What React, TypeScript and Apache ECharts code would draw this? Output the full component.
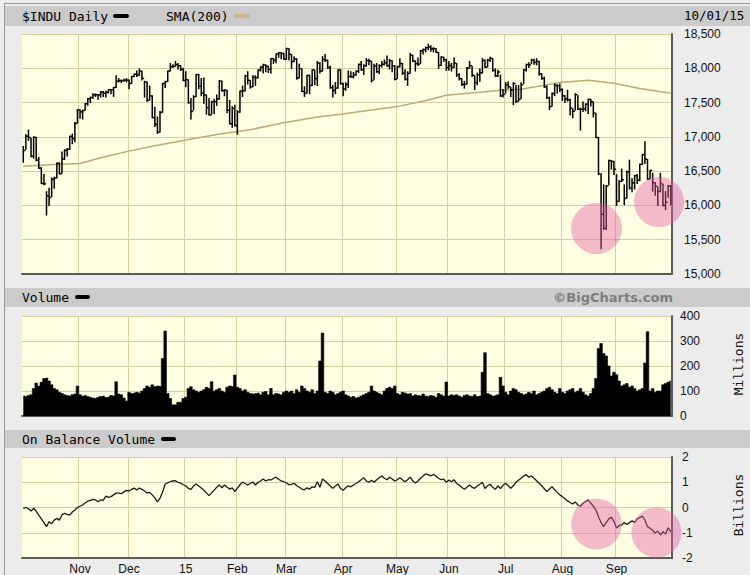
import React, { useEffect, useRef } from 'react';
import * as echarts from 'echarts';

// ---------- calendar (NYSE trading days 2014-10-02 .. 2015-10-01) ----------
const HOLIDAYS = ['2014-11-27', '2014-12-25', '2015-01-01', '2015-01-19', '2015-02-16', '2015-04-03', '2015-05-25', '2015-07-03', '2015-09-07'];
const MONTHS = ['Jan', 'Feb', 'Mar', 'Apr', 'May', 'Jun', 'Jul', 'Aug', 'Sep', 'Oct', 'Nov', 'Dec'];

function tradingDays(): string[] {
  const out: string[] = [];
  const d = new Date(Date.UTC(2014, 9, 2));
  const end = Date.UTC(2015, 9, 1);
  while (d.getTime() <= end) {
    const wd = d.getUTCDay();
    const s = d.toISOString().slice(0, 10);
    if (wd !== 0 && wd !== 6 && HOLIDAYS.indexOf(s) < 0) out.push(s);
    d.setUTCDate(d.getUTCDate() + 1);
  }
  return out;
}
const DATES = tradingDays();

// ---------- $INDU daily (close / high / low) ----------
const CLOSE = [
  16801, 17009, 16991, 16719, 16994, 16659, 16544, 16321, 16315, 16142, 16117, 16380, 16400, 16615, 16462, 16677, 16805, 16818, 17006, 16975, 17195, 17391,
  17366, 17384, 17484, 17554, 17573, 17613, 17615, 17612, 17652, 17635, 17648, 17688, 17686, 17720, 17810, 17818, 17815, 17828, 17828,
  17777, 17880, 17913, 17901, 17959, 17853, 17801, 17533, 17597, 17280, 17181, 17068, 17356, 17778, 17805, 17959, 18024, 18030, 18053, 18038, 17983, 17823,
  17833, 17501, 17371, 17585, 17908, 17737, 17640, 17613, 17427, 17320, 17512, 17515, 17554, 17814, 17673, 17679, 17388, 17191, 17417, 17165,
  17362, 17667, 17673, 17885, 17825, 17729, 17868, 17863, 17973, 18019, 18047, 18029, 17986, 18141, 18117, 18209, 18225, 18215, 18133,
  18288, 18204, 18097, 18136, 17857, 17996, 17662, 17635, 17895, 17749, 17977, 17849, 18076, 17959, 18128, 18116, 18011, 17718, 17678, 17712, 17976, 17776,
  17698, 17763, 17880, 17876, 17903, 17958, 18057, 17977, 18036, 18113, 18106, 17826, 18034, 17950, 18038, 18058, 18080, 18038, 18110, 18036, 17841,
  18024, 18070, 17928, 17842, 17925, 18191, 18105, 18068, 18060, 18253, 18272, 18299, 18312, 18285, 18286, 18232, 18042, 18163, 18126, 18011,
  18040, 18011, 18076, 17906, 17849, 17766, 17765, 18000, 18039, 17899, 17791, 17905, 17935, 18115, 18015, 18119, 18144, 17967, 17890, 17947, 17597, 17620,
  17758, 17731, 17684, 17777, 17516, 17549, 17761, 17978, 18054, 18051, 18121, 18087, 18101, 17920, 17852, 17732, 17569, 17441, 17631, 17751, 17746, 17690,
  17599, 17551, 17541, 17419, 17373, 17615, 17402, 17403, 17409, 17477, 17546, 17512, 17349, 16991, 16460, 15871, 15666, 16285, 16655, 16643, 16528,
  16058, 16351, 16374, 16102, 16492, 16253, 16330, 16433, 16370, 16599, 16740, 16675, 16385, 16511, 16331, 16280, 16202, 16315, 16001, 16049, 16285, 16272,
];
const HIGH = [
  16860, 17030, 17100, 16980, 17000, 16990, 16700, 16550, 16450, 16200, 16250, 16400, 16410, 16620, 16620, 16780, 16810, 16830, 17010, 17040, 17210, 17400,
  17395, 17390, 17490, 17560, 17580, 17630, 17625, 17615, 17660, 17660, 17665, 17690, 17690, 17720, 17890, 17850, 17830, 17840, 17850,
  17830, 17880, 17915, 17960, 17990, 17960, 17810, 17800, 17740, 17600, 17430, 17290, 17370, 17780, 17810, 17960, 18070, 18050, 18100, 18070, 18040, 18000,
  17950, 17830, 17560, 17600, 17910, 17910, 17850, 17860, 17610, 17560, 17520, 17550, 17610, 17820, 17810, 17690, 17680, 17530, 17440, 17460,
  17380, 17670, 17740, 17900, 17950, 17820, 17890, 17890, 17980, 18020, 18060, 18050, 18030, 18140, 18140, 18210, 18230, 18230, 18220,
  18290, 18290, 18200, 18170, 18140, 18060, 17990, 17730, 17900, 17900, 17980, 17970, 18100, 18080, 18170, 18200, 18120, 18030, 17750, 17790, 17980, 17980,
  17780, 17790, 17960, 17950, 17940, 17960, 18060, 18100, 18050, 18140, 18130, 18100, 18060, 18070, 18050, 18100, 18120, 18180, 18130, 18110, 18040,
  18030, 18140, 18070, 17980, 17950, 18220, 18190, 18110, 18150, 18260, 18280, 18310, 18350, 18330, 18300, 18290, 18230, 18170, 18160, 18130,
  18100, 18070, 18150, 18070, 17920, 17850, 17810, 18010, 18100, 18030, 17890, 17930, 17990, 18140, 18120, 18130, 18160, 18140, 17990, 17970, 17900, 17690,
  17790, 17800, 17720, 17790, 17750, 17750, 17790, 17980, 18060, 18080, 18130, 18130, 18140, 18100, 17920, 17870, 17740, 17580, 17640, 17770, 17760, 17770,
  17700, 17600, 17680, 17550, 17410, 17630, 17600, 17420, 17510, 17480, 17550, 17550, 17510, 17340, 16990, 16460, 16300, 16290, 16660, 16650, 16640,
  16450, 16360, 16530, 16300, 16500, 16660, 16390, 16440, 16450, 16600, 16740, 16930, 16670, 16510, 16470, 16330, 16270, 16470, 16310, 16200, 16290, 16290,
];
const LOW = [
  16630, 16820, 16950, 16710, 16690, 16650, 16540, 16320, 16300, 15860, 16000, 16130, 16250, 16400, 16460, 16470, 16670, 16720, 16820, 16900, 16930, 17200,
  17270, 17260, 17390, 17460, 17500, 17560, 17590, 17550, 17580, 17590, 17580, 17640, 17630, 17590, 17720, 17800, 17790, 17810, 17800,
  17700, 17780, 17880, 17880, 17900, 17830, 17580, 17520, 17540, 17280, 17150, 17050, 17070, 17360, 17720, 17810, 17960, 18010, 18030, 17990, 17970, 17820,
  17730, 17490, 17260, 17390, 17590, 17700, 17600, 17490, 17330, 17320, 17330, 17340, 17460, 17550, 17670, 17600, 17350, 17190, 17140, 17160,
  17040, 17360, 17590, 17670, 17770, 17710, 17730, 17750, 17860, 17960, 17930, 17950, 17940, 17930, 18070, 18080, 18160, 18140, 18130,
  18130, 18120, 18000, 18100, 17840, 17860, 17660, 17590, 17640, 17630, 17750, 17760, 17750, 17930, 17960, 18100, 18000, 17710, 17580, 17630, 17710, 17770,
  17600, 17680, 17720, 17870, 17860, 17900, 17940, 17970, 17910, 18030, 18050, 17800, 17840, 17940, 17920, 18020, 18050, 18030, 17990, 17950, 17830,
  17850, 18020, 17910, 17830, 17750, 17930, 18100, 17960, 18040, 18070, 18210, 18240, 18270, 18250, 18240, 18230, 18000, 18040, 18100, 17970,
  17970, 17960, 18010, 17880, 17830, 17750, 17710, 17770, 18000, 17880, 17690, 17760, 17810, 17930, 18010, 18020, 18100, 17960, 17880, 17880, 17590, 17580,
  17640, 17710, 17590, 17470, 17500, 17520, 17560, 17780, 17960, 18010, 18070, 18060, 18050, 17900, 17840, 17720, 17560, 17400, 17450, 17600, 17640, 17660,
  17530, 17500, 17520, 17320, 17280, 17390, 17400, 17100, 17370, 17380, 17340, 17450, 17290, 16990, 16450, 15370, 15650, 15650, 16300, 16530, 16450,
  16000, 16060, 16350, 16010, 16110, 16240, 16200, 16240, 16320, 16360, 16600, 16610, 16380, 16390, 16210, 16150, 16000, 16200, 15990, 15940, 16120, 16010,
];

// ---------- SMA(200), read at sample days ----------
const SMA_DAYS = [0, 12, 22, 30, 41, 49, 62, 75, 88, 101, 114, 123, 145, 157, 164, 178, 185, 193, 208, 219, 229, 239, 251];
const SMA_VALUES = [16572, 16597, 16611, 16695, 16792, 16856, 16948, 17036, 17105, 17207, 17290, 17329, 17441, 17538, 17607, 17655, 17680, 17695, 17793, 17827, 17783, 17705, 17636];

// ---------- Volume (millions) ----------
const VOLUME = [
  80, 78, 82, 85, 110, 132, 120, 135, 150, 152, 140, 125, 110, 105, 95, 90, 85, 82, 80, 85, 88, 120,
  85, 80, 82, 78, 75, 72, 70, 75, 78, 80, 74, 76, 82, 80, 137, 88, 85, 72, 60,
  95, 90, 92, 95, 92, 100, 110, 120, 115, 125, 118, 120, 118, 230, 340, 90, 70, 45, 45, 55, 55, 70,
  75, 110, 117, 105, 100, 95, 100, 105, 115, 110, 137, 100, 105, 110, 100, 95, 115, 120, 118, 164,
  115, 110, 100, 105, 95, 90, 88, 90, 92, 85, 95, 98, 85, 110, 85, 90, 88, 85, 95,
  100, 95, 100, 90, 105, 95, 120, 110, 100, 95, 105, 90, 100, 220, 332, 95, 90, 100, 95, 85, 90, 95,
  100, 85, 80, 75, 78, 72, 75, 80, 85, 90, 95, 120, 100, 95, 90, 85, 100, 110, 115, 110, 120,
  90, 85, 95, 92, 88, 90, 80, 85, 82, 80, 88, 80, 78, 82, 80, 75, 90, 85, 80, 136,
  80, 85, 82, 85, 80, 75, 82, 85, 80, 78, 85, 78, 80, 175, 253, 90, 85, 80, 82, 85, 155, 120,
  95, 85, 100, 110, 105, 95, 90, 85, 88, 95, 90, 100, 85, 90, 95, 100, 110, 115, 105, 95, 90, 110,
  95, 90, 100, 105, 110, 95, 100, 110, 95, 85, 80, 90, 110, 150, 270, 290, 250, 240, 200, 160, 175,
  165, 140, 120, 125, 130, 115, 120, 110, 100, 105, 110, 212, 337, 100, 110, 95, 100, 100, 125, 130, 135, 140,
];

// ---------- On Balance Volume (billions) ----------
const OBV = [
  -0.03, 0.0, -0.05, -0.14, -0.03, -0.15, -0.3, -0.45, -0.6, -0.76, -0.56, -0.64, -0.5, -0.43, -0.5, -0.3, -0.23, -0.27, -0.3, -0.18, -0.1, 0.0,
  0.05, 0.1, 0.18, 0.25, 0.28, 0.32, 0.3, 0.23, 0.3, 0.28, 0.45, 0.4, 0.43, 0.5, 0.57, 0.57, 0.55, 0.62, 0.68,
  0.65, 0.72, 0.77, 0.69, 0.77, 0.72, 0.65, 0.57, 0.6, 0.5, 0.38, 0.22, 0.37, 0.61, 0.92, 0.98, 1.02, 1.05, 1.06, 1.0, 0.97, 0.9,
  0.85, 0.76, 0.72, 0.85, 0.93, 0.85, 0.77, 0.68, 0.58, 0.47, 0.58, 0.69, 0.8, 0.89, 0.78, 0.89, 0.8, 0.73, 0.78, 0.63,
  0.77, 0.9, 1.01, 0.95, 0.89, 0.95, 1.01, 0.89, 1.0, 1.05, 1.13, 1.05, 1.1, 1.09, 1.15, 1.2, 1.12, 1.05, 1.02,
  0.98, 0.9, 0.92, 0.96, 0.86, 0.8, 0.73, 0.7, 0.78, 0.73, 0.82, 0.8, 1.02, 0.8, 1.13, 1.05, 0.95, 0.85, 0.76, 0.85, 0.93, 0.75,
  0.68, 0.78, 0.86, 0.82, 0.89, 0.95, 1.02, 1.1, 1.18, 1.05, 1.0, 1.08, 1.0, 1.1, 1.18, 1.25, 1.16, 1.1, 1.2, 1.13, 1.05,
  1.1, 1.18, 1.1, 1.02, 1.1, 1.2, 1.05, 0.97, 1.05, 1.16, 1.25, 1.33, 1.3, 1.25, 1.32, 1.24, 1.16, 1.1, 1.12, 1.0,
  1.09, 1.02, 1.1, 0.95, 0.89, 0.8, 0.72, 0.8, 0.89, 0.8, 0.76, 0.85, 0.92, 1.0, 0.75, 0.86, 0.92, 0.8, 0.72, 0.86, 0.75, 0.88,
  0.96, 0.86, 0.76, 0.86, 1.0, 1.08, 1.16, 1.25, 1.3, 1.2, 1.25, 1.16, 1.06, 0.96, 0.86, 0.74, 0.63, 0.73, 0.82, 0.7, 0.6, 0.5,
  0.43, 0.35, 0.26, 0.2, 0.14, 0.22, 0.1, 0.05, 0.17, 0.24, 0.3, 0.17, 0.05, -0.1, -0.36, -0.6, -0.76, -0.6, -0.45, -0.38, -0.55,
  -0.81, -0.72, -0.69, -0.59, -0.67, -0.6, -0.53, -0.59, -0.45, -0.4, -0.34, -0.5, -0.76, -0.82, -0.9, -1.01, -0.93, -1.09, -0.96, -1.05, -0.8, -0.97,
];

// ---------- axis ticks ----------
const PRICE_TICKS = { min: 15000, max: 18500, step: 500 };
const VOLUME_TICKS = { min: 0, max: 400, step: 100 };
const OBV_TICKS = { min: -2, max: 2, step: 1 };

// ---------- styling ----------
const PLOT_BG = '#fefee3';
const GRID_LINE = '#d5d0a2';
const AXIS_DARK = '#5a5a5a';
const PINK = 'rgba(228, 92, 162, 0.42)';
const MONO = '"DejaVu Sans Mono", monospace';
const SANS = '"Liberation Sans", Arial, sans-serif';

function isMonthStart(i: number): boolean {
  if (i <= 0 || i >= DATES.length - 1) return false;
  return DATES[i].slice(5, 7) !== DATES[i - 1].slice(5, 7);
}
function monthLabel(v: string): string {
  const m = parseInt(v.slice(5, 7), 10) - 1;
  return m === 0 ? v.slice(2, 4) : MONTHS[m];
}

export default function App() {
  const ref = useRef<HTMLDivElement>(null);
  useEffect(() => {
    if (!ref.current) return;
    const chart = echarts.init(ref.current, undefined, { renderer: 'svg' });

    const smaData: (number | null)[] = DATES.map(() => null);
    SMA_DAYS.forEach((d, k) => { smaData[d] = SMA_VALUES[k]; });

    const grids = [
      { left: 22, right: 78, top: 34, height: 240 },
      { left: 22, right: 78, top: 316, height: 100 },
      { left: 22, right: 78, top: 457, height: 101 },
    ].map((g) => ({ ...g, show: true, backgroundColor: PLOT_BG, borderWidth: 0 }));

    const xAxes = [0, 1, 2].map((g) => ({
      type: 'category',
      gridIndex: g,
      data: DATES,
      boundaryGap: true,
      axisLine: { show: true, onZero: false, lineStyle: { color: AXIS_DARK, width: 2 } },
      axisTick: { show: false },
      axisLabel: g === 2
        ? { show: true, interval: (i: number) => isMonthStart(i), formatter: (v: string) => monthLabel(v), fontFamily: SANS, fontSize: 12, color: '#111', margin: 5 }
        : { show: false },
      splitLine: { show: true, interval: (i: number) => isMonthStart(i), lineStyle: { color: GRID_LINE, width: 1 } },
    }));

    const yAxis = (g: number, t: { min: number; max: number; step: number }, margin: number, fmt?: (v: number) => string) => ({
      type: 'value',
      gridIndex: g,
      position: 'right',
      min: t.min,
      max: t.max,
      interval: t.step,
      axisLine: { show: true, lineStyle: { color: AXIS_DARK, width: 2 } },
      axisTick: { show: false },
      axisLabel: { margin, fontFamily: SANS, fontSize: 12, color: '#111', formatter: fmt },
      splitLine: { show: true, lineStyle: { color: GRID_LINE, width: 1 } },
    });

    const text = (t: string, x: number, y: number, font: string, fill = '#000', extra: any = {}) => ({
      type: 'text',
      x, y,
      silent: true,
      ...extra,
      style: { text: t, x: 0, y: 0, font, fill, align: extra.align || 'left', verticalAlign: 'middle', textAlign: extra.align || 'left', textVerticalAlign: 'middle' },
    });
    const dash = (x: number, y: number, w: number, color: string) => ({
      type: 'rect', shape: { x, y: y - 2, width: w, height: 4, r: 2 }, style: { fill: color }, silent: true,
    });

    const graphics: any[] = [
      // frame
      { type: 'line', shape: { x1: 4.5, y1: 3, x2: 4.5, y2: 575 }, style: { stroke: '#9a9a9a', lineWidth: 1 } },
      { type: 'line', shape: { x1: 4, y1: 3.5, x2: 750, y2: 3.5 }, style: { stroke: '#9a9a9a', lineWidth: 1 } },
      // header bands
      { type: 'rect', shape: { x: 5, y: 6, width: 745, height: 20 }, style: { fill: '#cbcbcb' } },
      { type: 'rect', shape: { x: 5, y: 288, width: 745, height: 19 }, style: { fill: '#cbcbcb' } },
      { type: 'rect', shape: { x: 5, y: 430, width: 745, height: 18 }, style: { fill: '#cbcbcb' } },
      // header texts & legend marks
      text('$INDU Daily', 22, 16, `13px ${MONO}`),
      dash(113, 16, 16, '#000'),
      text('SMA(200)', 166, 16, `13px ${MONO}`),
      dash(234, 16, 16, '#c9b989'),
      text('10/01/15', 684, 15, `12.5px ${MONO}`),
      text('Volume', 22, 297, `13px ${MONO}`),
      dash(75, 297, 15, '#000'),
      text('©BigCharts.com', 673, 297, `bold 13px "DejaVu Sans", sans-serif`, '#7d7d7d', { align: 'right' }),
      text('On Balance Volume', 22, 439, `13px ${MONO}`),
      dash(161, 439, 15, '#000'),
      // unit labels
      { ...text('Millions', 738, 364, `13px ${MONO}`, '#111', { align: 'center' }), rotation: Math.PI / 2 },
      { ...text('Billions', 738, 505, `13px ${MONO}`, '#111', { align: 'center' }), rotation: Math.PI / 2 },
      // highlight circles
      { type: 'circle', z: 100, silent: true, shape: { cx: 596.5, cy: 228.5, r: 25.5 }, style: { fill: PINK } },
      { type: 'circle', z: 100, silent: true, shape: { cx: 659, cy: 202, r: 25 }, style: { fill: PINK } },
      { type: 'circle', z: 100, silent: true, shape: { cx: 596.5, cy: 524, r: 25.3 }, style: { fill: PINK } },
      { type: 'circle', z: 100, silent: true, shape: { cx: 656.5, cy: 532.5, r: 25 }, style: { fill: PINK } },
    ];

    chart.setOption({
      animation: false,
      backgroundColor: '#ececec',
      grid: grids,
      xAxis: xAxes,
      yAxis: [
        yAxis(0, PRICE_TICKS, 12, (v: number) => v.toLocaleString('en-US')),
        yAxis(1, VOLUME_TICKS, 8),
        yAxis(2, OBV_TICKS, 10),
      ],
      graphic: { elements: graphics },
      series: [
        {
          name: 'SMA(200)',
          type: 'line',
          xAxisIndex: 0, yAxisIndex: 0,
          data: smaData,
          connectNulls: true,
          symbol: 'none',
          z: 2,
          lineStyle: { color: '#bcaa72', width: 1.5 },
        },
        {
          name: '$INDU',
          type: 'custom',
          xAxisIndex: 0, yAxisIndex: 0,
          z: 3,
          clip: true,
          data: CLOSE.map((c, i) => [i, HIGH[i], LOW[i], c]),
          encode: { x: 0, y: [1, 2, 3] },
          renderItem: (params: any, api: any) => {
            const i = api.value(0);
            const hi = api.coord([i, api.value(1)]);
            const lo = api.coord([i, api.value(2)]);
            const cl = api.coord([i, api.value(3)]);
            const x = hi[0];
            return {
              type: 'group',
              children: [
                { type: 'line', shape: { x1: x, y1: hi[1] - 0.5, x2: x, y2: lo[1] + 0.5 }, style: { stroke: '#000', lineWidth: 1.5 } },
                { type: 'line', shape: { x1: x, y1: cl[1], x2: x + 2.2, y2: cl[1] }, style: { stroke: '#000', lineWidth: 1.5 } },
              ],
            };
          },
        },
        {
          name: 'Volume',
          type: 'line',
          xAxisIndex: 1, yAxisIndex: 1,
          data: VOLUME,
          step: 'middle',
          symbol: 'none',
          lineStyle: { color: '#000', width: 0.6 },
          areaStyle: { color: '#000', opacity: 1 },
        },
        {
          name: 'On Balance Volume',
          type: 'line',
          xAxisIndex: 2, yAxisIndex: 2,
          data: OBV,
          symbol: 'none',
          lineStyle: { color: '#1a1a1a', width: 1.3 },
        },
      ],
    });
    return () => chart.dispose();
  }, []);

  return <div ref={ref} style={{ position: 'fixed', left: 0, top: 0, width: 750, height: 575 }} />;
}
